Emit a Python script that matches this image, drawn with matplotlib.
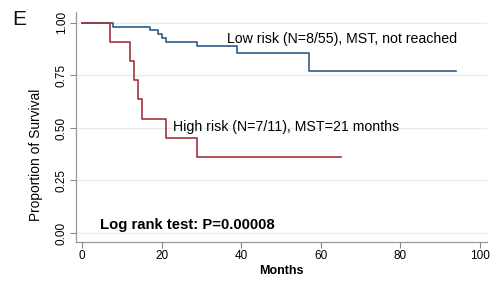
import matplotlib
matplotlib.use('Agg')
import matplotlib.pyplot as plt

plt.rcParams['font.family'] = ['Liberation Sans', 'DejaVu Sans']

# Kaplan-Meier step data
low_t = [0, 7.8, 17, 19, 20, 21, 29, 39, 57, 94]
low_s = [1.0, 0.982, 0.964, 0.946, 0.927, 0.909, 0.890, 0.859, 0.771, 0.771]
high_t = [0, 7, 12, 13, 14.2, 15, 21, 29, 65]
high_s = [1.0, 0.909, 0.818, 0.727, 0.636, 0.545, 0.4545, 0.364, 0.364]

yticks = [0, 0.25, 0.5, 0.75, 1.0]
ytick_labels = ['0.00', '0.25', '0.50', '0.75', '1.00']
xticks = [0, 20, 40, 60, 80, 100]

fig = plt.figure(figsize=(5, 2.93), dpi=100)
ax = fig.add_axes([0.152, 0.174, 0.822, 0.785])

grid_c = '#e4eded'
for y in yticks:
    ax.axhline(y, color=grid_c, lw=0.9, zorder=0)

ax.step(low_t, low_s, where='post', color='#2f5a87', lw=1.2)
ax.step(high_t, high_s, where='post', color='#a3343f', lw=1.2)

ax.set_xlim(-1.5, 101.8)
ax.set_ylim(-0.043, 1.052)
ax.set_xticks(xticks)
ax.set_yticks(yticks)
ax.set_yticklabels(ytick_labels, rotation=90, va='center')
ax.tick_params(axis='both', labelsize=8.5, color='#888888', length=4, width=0.8, pad=2)

for s in ['top', 'right']:
    ax.spines[s].set_visible(False)
for s in ['left', 'bottom']:
    ax.spines[s].set_color('#999999')
    ax.spines[s].set_linewidth(0.9)

ax.set_xlabel('Months', fontsize=9, fontweight='bold', labelpad=2)
ax.set_ylabel('Proportion of Survival', fontsize=9.9)
ax.yaxis.set_label_coords(-0.08, 0.378)

ax.text(36.4, 0.924, 'Low risk (N=8/55), MST, not reached', fontsize=10.2, va='center')
ax.text(22.9, 0.505, 'High risk (N=7/11), MST=21 months', fontsize=10.2, va='center')
ax.text(4.5, 0.038, 'Log rank test: P=0.00008', fontsize=10.75, fontweight='bold', va='center')

fig.text(0.024, 0.935, 'E', fontsize=15, color='#1a0a0a', va='center')

plt.savefig('out.png', dpi=100)
